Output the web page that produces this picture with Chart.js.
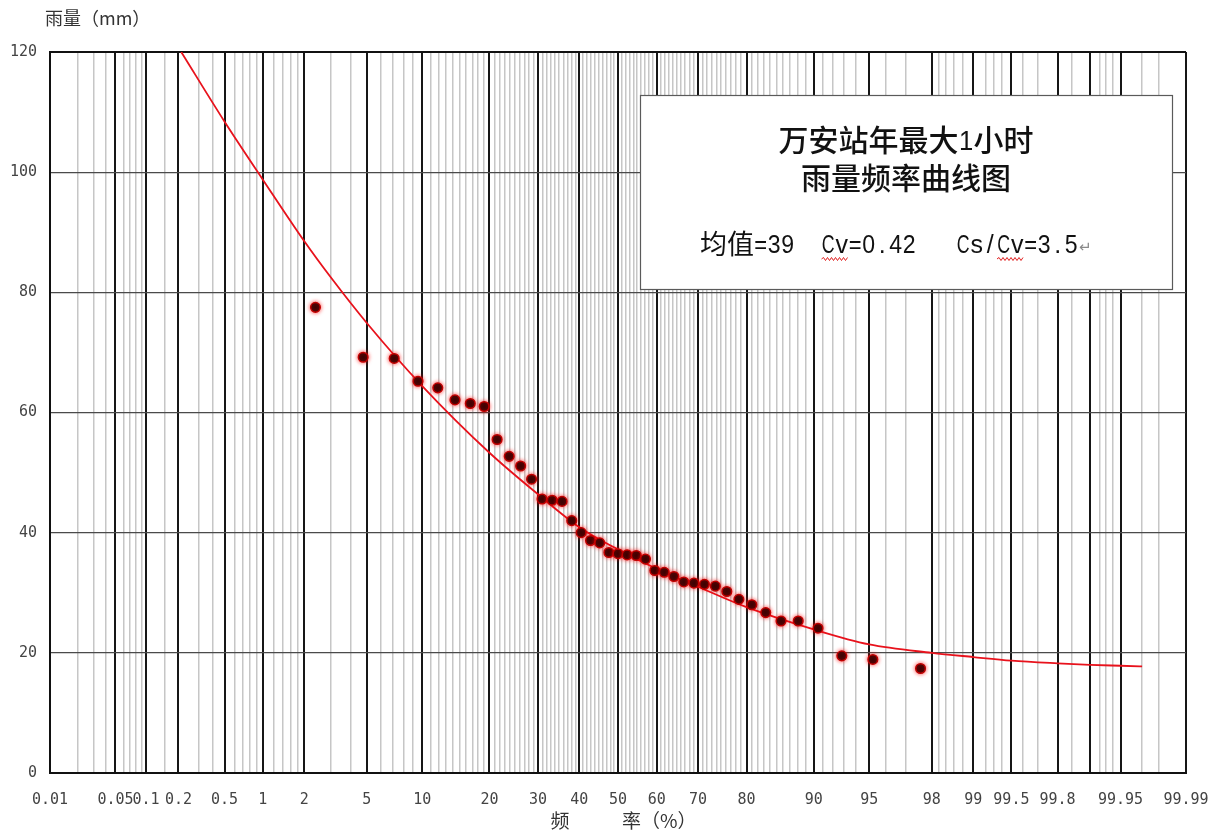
<!DOCTYPE html>
<html lang="zh">
<head>
<meta charset="utf-8">
<title>万安站年最大1小时雨量频率曲线图</title>
<script src="https://cdn.jsdelivr.net/npm/chart.js"></script>
<style>
  html, body { margin: 0; padding: 0; background: #fff; }
  canvas { display: block; }
</style>
</head>
<body>
<canvas id="chart" width="1220" height="834"></canvas>
<script>
// Empirical frequency (%) of the 41 annual maxima, ranked largest first
const SAMPLE_P = [2.38, 4.76, 7.14, 9.52, 11.9, 14.29, 16.67, 19.05, 21.43, 23.81,
  26.19, 28.57, 30.95, 33.33, 35.71, 38.1, 40.48, 42.86, 45.24, 47.62,
  50, 52.38, 54.76, 57.14, 59.52, 61.9, 64.29, 66.67, 69.05, 71.43,
  73.81, 76.19, 78.57, 80.95, 83.33, 85.71, 88.1, 90.48, 92.86, 95.24, 97.62];
// Annual maximum 1-hour rainfall (mm)
const SAMPLE_MM = [77.5, 69.2, 69.0, 65.2, 64.1, 62.1, 61.5, 61.0, 55.5, 52.7,
  51.1, 48.9, 45.6, 45.4, 45.2, 42.0, 40.0, 38.7, 38.3, 36.7,
  36.5, 36.3, 36.2, 35.6, 33.7, 33.4, 32.7, 31.8, 31.6, 31.4,
  31.1, 30.2, 28.9, 28.0, 26.7, 25.3, 25.3, 24.1, 19.5, 18.9, 17.4];

// Fitted frequency curve (P-III, mean 39, Cv 0.42, Cs/Cv 3.5)
const CURVE_P = [0.212, 0.5, 1, 2, 3, 5, 10, 20, 30, 40, 50, 60, 70, 80, 90,
  95, 98, 99, 99.5, 99.8, 99.9, 99.95, 99.97];
const CURVE_MM = [120, 108.4, 98.8, 88.5, 82.5, 74.9, 64.4, 53.3, 46.4, 40.9, 37.2,
  34.0, 31.0, 27.6, 23.9, 21.4, 20.0, 19.3, 18.7, 18.25, 18.0, 17.85, 17.75];

// Probability-paper rulings
const TICK_LABELS = ['0.01', '0.05', '0.1', '0.2', '0.5', '1', '2', '5', '10', '20', '30',
  '40', '50', '60', '70', '80', '90', '95', '98', '99', '99.5', '99.8', '99.95', '99.99'];
const MAJOR_P = [0.01, 0.05, 0.1, 0.2, 0.5, 1, 2, 5, 10, 20, 30, 40, 50, 60, 70, 80, 90,
  95, 98, 99, 99.5, 99.8, 99.9, 99.95, 99.99];
const MINOR_P = [0.02, 0.03, 0.04, 0.06, 0.07, 0.08, 0.09, 0.15, 0.3, 0.4,
  0.6, 0.7, 0.8, 0.9, 1.2, 1.4, 1.6, 1.8, 3, 4, 6, 7, 8, 9];
for (let v = 11; v < 90; v++) if (v % 10) MINOR_P.push(v);
MINOR_P.push(91, 92, 93, 94, 96, 97, 98.2, 98.4, 98.6, 98.8, 99.2, 99.3, 99.4,
  99.6, 99.7, 99.85, 99.92, 99.93, 99.94, 99.97, 99.98);
const GRID_P = MAJOR_P.concat(MINOR_P).sort((a, b) => a - b);

const Y_MIN = 0, Y_MAX = 120, Y_STEP = 20;

// Inverse standard normal CDF (Acklam)
function qnorm(p) {
  p = Math.min(Math.max(p, 1e-12), 1 - 1e-12);
  const a = [-39.69683028665376, 220.9460984245205, -275.9285104469687, 138.3577518672690, -30.66479806614716, 2.506628277459239];
  const b = [-54.47609879822406, 161.5858368580409, -155.6989798598866, 66.80131188771972, -13.28068155288572];
  const c = [-0.007784894002430293, -0.3223964580411365, -2.400758277161838, -2.549732539343734, 4.374664141464968, 2.938163982698783];
  const d = [0.007784695709041462, 0.3224671290700398, 2.445134137142996, 3.754408661907416];
  const lo = 0.02425;
  let q, r;
  if (p < lo) {
    q = Math.sqrt(-2 * Math.log(p));
    return (((((c[0]*q+c[1])*q+c[2])*q+c[3])*q+c[4])*q+c[5]) / ((((d[0]*q+d[1])*q+d[2])*q+d[3])*q+1);
  }
  if (p <= 1 - lo) {
    q = p - 0.5; r = q * q;
    return (((((a[0]*r+a[1])*r+a[2])*r+a[3])*r+a[4])*r+a[5])*q / (((((b[0]*r+b[1])*r+b[2])*r+b[3])*r+b[4])*r+1);
  }
  q = Math.sqrt(-2 * Math.log(1 - p));
  return -(((((c[0]*q+c[1])*q+c[2])*q+c[3])*q+c[4])*q+c[5]) / ((((d[0]*q+d[1])*q+d[2])*q+d[3])*q+1);
}
// Standard normal CDF
function pnorm(z) {
  const t = 1 / (1 + 0.3275911 * Math.abs(z) / Math.SQRT2);
  const y = 1 - (((((1.061405429*t - 1.453152027)*t) + 1.421413741)*t - 0.284496736)*t + 0.254829592)*t * Math.exp(-z*z/2);
  return z >= 0 ? (1 + y) / 2 : (1 - y) / 2;
}

// Normal probability axis: values in percent, spaced by their normal quantile
class ProbabilityScale extends Chart.LinearScale {
  determineDataLimits() {
    this.min = this.options.min;
    this.max = this.options.max;
  }
  buildTicks() {
    return GRID_P.map(v => ({ value: v }));
  }
  configure() {
    super.configure();
    this._zLo = qnorm(this.min / 100);
    this._zHi = qnorm(this.max / 100);
  }
  getPixelForValue(v) {
    const z = qnorm(v / 100);
    return this.getPixelForDecimal((z - this._zLo) / (this._zHi - this._zLo));
  }
  getValueForPixel(px) {
    const t = this.getDecimalForPixel(px);
    return 100 * pnorm(this._zLo + t * (this._zHi - this._zLo));
  }
}
ProbabilityScale.id = 'probability';
ProbabilityScale.defaults = {};
Chart.register(ProbabilityScale);

// Text with CJK full-width cells and ASCII half-width cells
function drawMixed(ctx, text, x, baseline, size, align, weight) {
  const cells = [...text].map(ch => ({ ch, w: ch.charCodeAt(0) < 256 ? size / 2 : size }));
  const total = cells.reduce((s, c) => s + c.w, 0);
  let cx = align === 'center' ? x - total / 2 : x;
  ctx.textAlign = 'center';
  ctx.textBaseline = 'alphabetic';
  for (const c of cells) {
    c.x0 = cx;
    if (c.w < size) {
      ctx.font = `${Math.round(size * 0.92)}px "Liberation Sans", "DejaVu Sans", sans-serif`;
      const m = ctx.measureText(c.ch).width;
      const sx = m > c.w * 0.95 ? (c.w * 0.95) / m : 1;
      ctx.save();
      ctx.translate(cx + c.w / 2, baseline);
      ctx.scale(sx, 1);
      ctx.fillText(c.ch, 0, 0);
      ctx.restore();
    } else {
      ctx.font = `${weight} ${size}px "Noto Sans CJK SC", sans-serif`;
      ctx.fillText(c.ch, cx + c.w / 2, baseline + size * 0.04);
    }
    cx += c.w;
    c.x1 = cx;
  }
  return cells;
}

function wavy(ctx, x0, x1, y) {
  ctx.beginPath();
  ctx.moveTo(x0, y);
  let up = true;
  for (let x = x0 + 2; x <= x1; x += 2) {
    ctx.lineTo(x, y + (up ? -1.5 : 1.5));
    up = !up;
  }
  ctx.stroke();
}

const annotations = {
  id: 'annotations',
  afterDraw(chart, args, o) {
    const ctx = chart.ctx;
    ctx.save();
    // caption box
    ctx.fillStyle = '#fff';
    ctx.fillRect(o.box.x, o.box.y, o.box.w, o.box.h);
    ctx.strokeStyle = '#5a5a5a';
    ctx.lineWidth = 1.2;
    ctx.strokeRect(o.box.x + 0.5, o.box.y + 0.5, o.box.w, o.box.h);

    const cxm = o.box.x + o.box.w / 2;
    ctx.fillStyle = '#111';
    drawMixed(ctx, '万安站年最大1小时', cxm, 150, 30, 'center', 500);
    drawMixed(ctx, '雨量频率曲线图', cxm, 188, 30, 'center', 500);
    const line3 = '均值=39  Cv=0.42   Cs/Cv=3.5';
    const cells = drawMixed(ctx, line3, 700, 253, 27, 'left', 400);
    const end = cells[cells.length - 1].x1;
    ctx.fillStyle = '#8a8a8a';
    ctx.font = '15px "DejaVu Sans", sans-serif';
    ctx.textAlign = 'left';
    ctx.fillText('↵', end + 1, 252);

    // proofing marks under "Cv"
    ctx.strokeStyle = '#e02020';
    ctx.lineWidth = 1;
    const txt = [...line3];
    txt.forEach((ch, i) => {
      if (ch === 'C' && txt[i + 1] === 'v') wavy(ctx, cells[i].x0, cells[i + 1].x1, 259);
    });

    // axis titles
    ctx.fillStyle = '#333';
    ctx.textBaseline = 'middle';
    ctx.textAlign = 'left';
    ctx.font = '18px "Noto Sans CJK SC", sans-serif';
    ctx.fillText('雨量（mm）', 45, 18);
    ctx.font = '19px "Noto Sans CJK SC", sans-serif';
    ctx.textAlign = 'center';
    ctx.fillText('频', 560, 821);
    ctx.textAlign = 'left';
    ctx.fillText('率（%）', 622, 821);
    ctx.restore();
  }
};

const pointGlow = {
  id: 'pointGlow',
  beforeDatasetDraw(chart, args) {
    if (args.index !== 0) return;
    chart.ctx.save();
    chart.ctx.shadowColor = 'rgba(255,0,0,0.7)';
    chart.ctx.shadowBlur = 4;
  },
  afterDatasetDraw(chart, args) {
    if (args.index !== 0) return;
    chart.ctx.restore();
  }
};

const tickFont = { family: '"DejaVu Sans Mono", monospace', size: 15 };

new Chart(document.getElementById('chart'), {
  type: 'scatter',
  data: {
    datasets: [
      {
        label: '实测点据',
        data: SAMPLE_P.map((p, i) => ({ x: p, y: SAMPLE_MM[i] })),
        pointRadius: 4.8,
        pointBackgroundColor: '#2a0303',
        pointBorderColor: '#c00000',
        pointBorderWidth: 1.5,
        showLine: false
      },
      {
        label: '频率曲线',
        type: 'line',
        data: CURVE_P.map((p, i) => ({ x: p, y: CURVE_MM[i] })),
        borderColor: '#e8121c',
        borderWidth: 1.8,
        pointRadius: 0,
        fill: false,
        cubicInterpolationMode: 'monotone'
      }
    ]
  },
  options: {
    responsive: false,
    devicePixelRatio: 1,
    animation: false,
    events: [],
    layout: { padding: { top: 52, right: 34, left: 0, bottom: 0 } },
    plugins: {
      legend: { display: false },
      tooltip: { enabled: false },
      annotations: { box: { x: 640, y: 95, w: 532, h: 194 } }
    },
    scales: {
      x: {
        type: 'probability',
        min: 0.01,
        max: 99.99,
        afterFit: s => { s.height = 61; },
        grid: {
          drawTicks: false,
          color: c => MAJOR_P.includes(c.tick.value) ? '#161616' : '#c6c6c6',
          lineWidth: c => MAJOR_P.includes(c.tick.value) ? 2 : 1.5
        },
        border: { color: '#111', width: 2 },
        ticks: {
          autoSkip: false,
          maxRotation: 0,
          minRotation: 0,
          padding: 0,
          color: '#444',
          font: { family: '"DejaVu Sans Mono", monospace', size: 15, lineHeight: '54px' },
          callback: v => TICK_LABELS.includes(String(v)) ? String(v) : ''
        }
      },
      y: {
        min: Y_MIN,
        max: Y_MAX,
        afterFit: s => { s.width = 50; },
        grid: {
          drawTicks: false,
          color: c => (c.tick.value === Y_MAX || c.tick.value === Y_MIN) ? '#111' : '#4a4a4a',
          lineWidth: c => (c.tick.value === Y_MAX || c.tick.value === Y_MIN) ? 2 : 1.2
        },
        border: { color: '#111', width: 2 },
        ticks: {
          stepSize: Y_STEP,
          padding: 13,
          color: '#444',
          font: tickFont
        }
      }
    }
  },
  plugins: [annotations, pointGlow]
});
</script>
</body>
</html>
